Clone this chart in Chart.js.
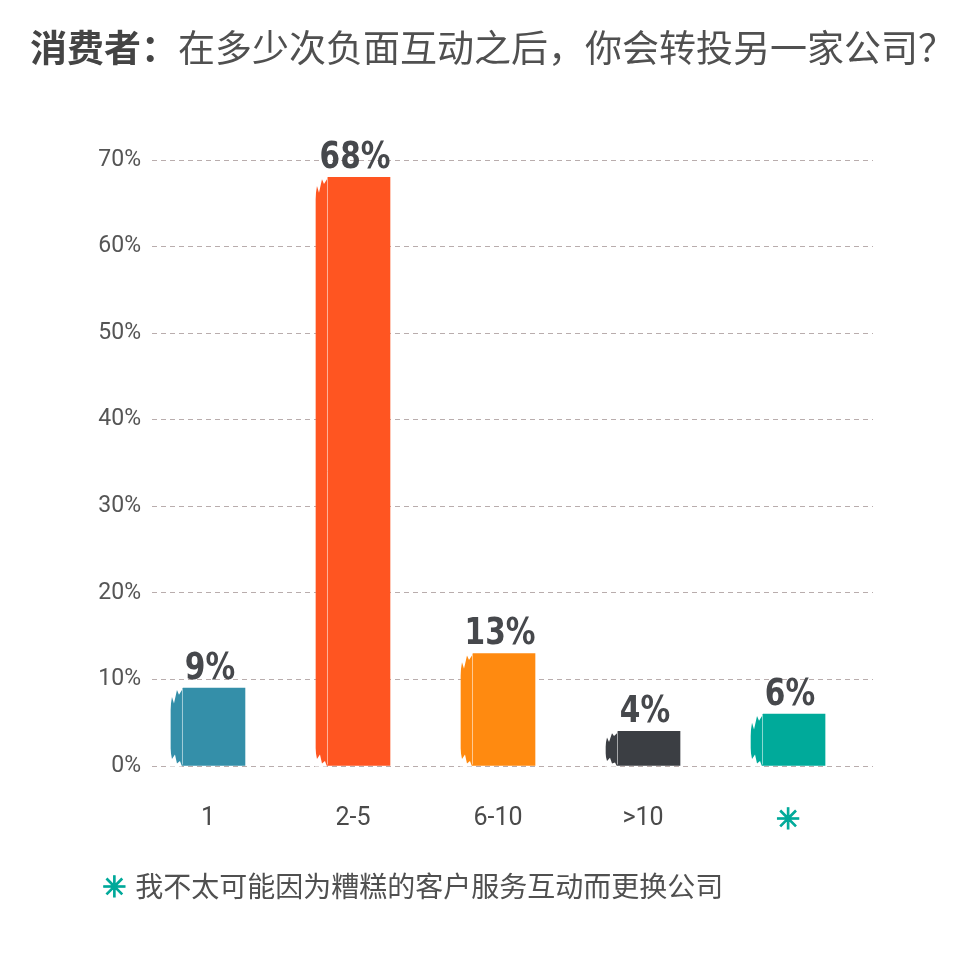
<!DOCTYPE html>
<html>
<head>
<meta charset="utf-8">
<script src="https://cdn.jsdelivr.net/npm/chart.js@4/dist/chart.umd.min.js"></script>
<style>
    body { margin: 0; background: #fff; }
    #wrap { position: relative; width: 980px; height: 960px; }
    #title {
        position: absolute; left: 30px; top: 28px;
        font-family: "Noto Sans CJK SC", sans-serif; font-size: 37px; line-height: 37px;
        color: #505050; white-space: nowrap;
    }
    #title b { color: #444; }
    #note {
        position: absolute; left: 102px; top: 871px;
        font-family: "Noto Sans CJK SC", sans-serif; font-size: 28px; line-height: 29px;
        color: #505050; white-space: nowrap;
    }
    #note .star {
        color: #00a99a; font-family: "DejaVu Sans", sans-serif; font-weight: bold; font-size: 29px;
        margin-right: 9px; -webkit-text-stroke: 1.2px #00a99a;
    }
</style>
</head>
<body>
<div id="wrap">
    <canvas id="chart" width="980" height="960"></canvas>
    <div id="title"><b>消费者：</b>在多少次负面互动之后，你会转投另一家公司？</div>
    <div id="note"><span class="star">✳&#xFE0E;</span>我不太可能因为糟糕的客户服务互动而更换公司</div>
</div>
<script>
const categories = ["1", "2-5", "6-10", ">10", "\u2733\uFE0E"];
const shares = [9, 68, 13, 4, 6];
const valueLabels = ["9%", "68%", "13%", "4%", "6%"];
const barColors = ["#348fa9", "#ff5521", "#ff8a10", "#3b3e43", "#00aa9a"];
const yTickValues = [0, 10, 20, 30, 40, 50, 60, 70];

/**
 * Rough up the left edge of each bar so it looks brushed,
 * then put the value label above it.
 */
const barDecorPlugin = {
    id: "barDecor",
    afterDatasetsDraw(chart) {
        const ctx = chart.ctx;
        const meta = chart.getDatasetMeta(0);
        ctx.save();
        meta.data.forEach((bar, i) => {
            const left = bar.x - bar.width / 2;
            const top = bar.y;
            const bottom = bar.base;
            const h = bottom - top;
            const notch = Math.min(22, h * 0.45);
            ctx.fillStyle = "#fff";
            // top-left jag
            ctx.beginPath();
            ctx.moveTo(left - 1, top - 1);
            ctx.lineTo(left + 12, top - 1);
            ctx.lineTo(left + 11, top + 2);
            ctx.lineTo(left + 8, top + notch * 0.3);
            ctx.lineTo(left + 6, top + 2);
            ctx.lineTo(left + 3, top + notch * 0.7);
            ctx.lineTo(left + 1, top + notch * 0.4);
            ctx.lineTo(left - 1, top + notch);
            ctx.closePath();
            ctx.fill();
            // bottom-left jag
            ctx.beginPath();
            ctx.moveTo(left - 1, bottom + 1);
            ctx.lineTo(left + 11, bottom + 1);
            ctx.lineTo(left + 9, bottom - notch * 0.2);
            ctx.lineTo(left + 6, bottom - 2);
            ctx.lineTo(left + 4, bottom - notch * 0.5);
            ctx.lineTo(left + 1, bottom - notch * 0.3);
            ctx.lineTo(left - 1, bottom - notch * 0.8);
            ctx.closePath();
            ctx.fill();
            // faint streak where the brush meets the block
            ctx.strokeStyle = "rgba(255,255,255,0.55)";
            ctx.lineWidth = 1;
            ctx.beginPath();
            ctx.moveTo(left + 11.5, top + 1);
            ctx.lineTo(left + 11.5, bottom - 1);
            ctx.stroke();
        });

        ctx.font = "bold 38px 'DejaVu Sans', sans-serif";
        ctx.fillStyle = "#46484c";
        ctx.textAlign = "center";
        ctx.textBaseline = "alphabetic";
        meta.data.forEach((bar, i) => {
            ctx.save();
            ctx.translate(bar.x + 2, bar.y - 9);
            ctx.scale(0.78, 1);
            ctx.fillText(valueLabels[i], 0, 0);
            ctx.restore();
        });
        ctx.restore();
    }
};

new Chart(document.getElementById("chart"), {
    type: "bar",
    data: {
        datasets: [{
            data: shares.map((v, i) => ({ x: i, y: v })),
            backgroundColor: barColors,
            borderWidth: 0,
            barThickness: 74
        }]
    },
    options: {
        responsive: false,
        animation: false,
        layout: { padding: { left: 80, right: 107, top: 160, bottom: 124 } },
        plugins: { legend: { display: false }, tooltip: { enabled: false } },
        scales: {
            x: {
                type: "linear",
                offset: false,
                min: -0.386,
                max: 4.586,
                grid: { display: false, offset: false },
                border: { display: false },
                afterBuildTicks(scale) {
                    scale.ticks = categories.map((c, i) => ({ value: i }));
                },
                afterFit(scale) { scale.height = 70; },
                ticks: {
                    autoSkip: false,
                    maxRotation: 0,
                    padding: 30,
                    callback: (v) => categories[v],
                    color: (c) => c.index === 4 ? "#00aa9a" : "#4a4a4a",
                    textStrokeColor: "#00aa9a",
                    textStrokeWidth: (c) => c.index === 4 ? 1.2 : 0,
                    font: (c) => c.index === 4
                        ? { family: "DejaVu Sans", size: 29, weight: "bold" }
                        : { family: "Roboto", size: 25 }
                }
            },
            y: {
                min: 0,
                max: 70,
                afterBuildTicks(scale) {
                    scale.ticks = yTickValues.map(v => ({ value: v }));
                },
                afterFit(scale) { scale.width = 72; },
                grid: {
                    color: "#b9adad",
                    lineWidth: 1,
                    drawTicks: false
                },
                border: { display: false, dash: [5, 4] },
                ticks: {
                    padding: 11,
                    color: "#555",
                    font: { family: "Roboto", size: 23 },
                    callback: (v) => v + "%"
                }
            }
        }
    },
    plugins: [barDecorPlugin]
});
</script>
</body>
</html>
